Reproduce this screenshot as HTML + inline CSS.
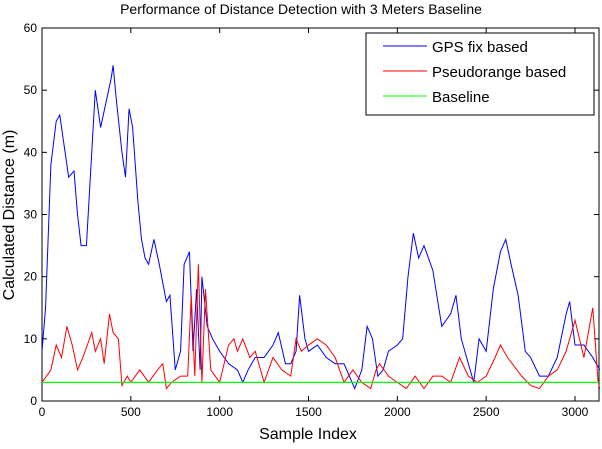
<!DOCTYPE html>
<html><head><meta charset="utf-8"><style>
body{margin:0;background:#fff;font-family:"Liberation Sans",Arial,sans-serif}
svg text{font-family:"Liberation Sans",Arial,sans-serif}
</style></head><body>
<svg id="chart" width="602" height="444" viewBox="0 0 602 444" xmlns="http://www.w3.org/2000/svg">
<text x="301" y="14" font-size="14" text-anchor="middle">Performance of Distance Detection with 3 Meters Baseline</text>
<g id="plot"></g>
<text x="308" y="439" font-size="16" text-anchor="middle">Sample Index</text>
<text transform="translate(14,215) rotate(-90)" font-size="16" text-anchor="middle">Calculated Distance (m)</text>
<g>
<rect x="366" y="33" width="228" height="82" fill="#fff" stroke="#000"/>
<line x1="383" y1="46" x2="427" y2="46" stroke="#00f"/>
<text x="432" y="52" font-size="15">GPS fix based</text>
<line x1="383" y1="71" x2="427" y2="71" stroke="#f00"/>
<text x="432" y="77" font-size="15">Pseudorange based</text>
<line x1="383" y1="96" x2="427" y2="96" stroke="#0f0"/>
<text x="432" y="102" font-size="15">Baseline</text>
</g>
</svg>
<script>
const gpsX=[0,20,50,80,100,130,150,180,200,220,250,270,300,330,360,390,400,420,450,470,490,510,540,560,580,600,630,660,700,720,750,780,800,830,850,870,890,900,930,960,1000,1050,1100,1130,1160,1200,1250,1300,1330,1370,1400,1430,1450,1480,1500,1550,1600,1650,1700,1730,1760,1800,1830,1860,1890,1920,1950,2000,2030,2060,2090,2120,2150,2200,2250,2300,2330,2360,2400,2430,2460,2500,2540,2580,2610,2640,2680,2720,2750,2800,2850,2900,2950,2970,3000,3050,3100,3140];
const gpsY=[8,15,38,45,46,40,36,37,30,25,25,35,50,44,48,52,54,48,40,36,47,44,32,26,23,22,26,22,16,17,5,8,22,24,8,18,5,20,12,10,8,6,5,3,5,7,7,9,11,6,6,8,17,10,8,9,7,6,6,4,2,5,12,10,4,5,8,9,10,20,27,23,25,21,12,14,17,10,6,3,10,8,18,24,26,22,17,8,7,4,4,7,14,16,9,9,7,5];
const prX=[0,50,80,110,140,170,200,230,280,300,330,350,380,400,430,450,480,500,550,600,650,680,700,730,780,820,840,860,880,900,920,950,1000,1050,1080,1100,1130,1170,1200,1250,1300,1350,1400,1430,1460,1500,1550,1600,1650,1700,1750,1800,1850,1880,1900,1950,2000,2050,2100,2150,2200,2250,2300,2350,2400,2450,2500,2550,2580,2620,2700,2750,2800,2850,2900,2950,3000,3050,3100,3130,3140];
const prY=[3,5,9,7,12,9,5,7,11,8,10,6,14,11,10,2.5,4,3,5,3,5,6,2,3,4,4,17,4,22,3,18,5,3,9,10,8,10,7,8,3,7,5,4,10,8,9,10,9,7,3,5,3,2,5,6,4,3,2,4,2,4,4,3,7,4,3,4,7,9,7,4,2.5,2,4,5,8,13,7,15,3,2];
const baseline=3;
const xTicks=[0,500,1000,1500,2000,2500,3000];
const yTicks=[0,10,20,30,40,50,60];
const L=42,R=599,T=28,B=401,XMAX=3135,YMAX=60;
const sx=v=>L+(v/XMAX)*(R-L), sy=v=>B-(v/YMAX)*(B-T);
const NS="http://www.w3.org/2000/svg", g=document.getElementById('plot');
function mk(t,a){const e=document.createElementNS(NS,t);for(const k in a)e.setAttribute(k,a[k]);g.appendChild(e);return e;}
const frame=mk('rect',{x:L,y:T,width:R-L,height:B-T,fill:'#fff',stroke:'#000'});


xTicks.forEach(v=>{const x=sx(v);
const t=mk('line',{x1:x,y1:B,x2:x,y2:B-5,stroke:'#000'});


mk('line',{x1:x,y1:T,x2:x,y2:T+5,stroke:'#000'});
const l=mk('text',{x:x,y:B+15,'font-size':12,'text-anchor':'middle'});l.textContent=v;

});
yTicks.forEach(v=>{const y=sy(v);
const t=mk('line',{x1:L,y1:y,x2:L+5,y2:y,stroke:'#000'});


mk('line',{x1:R,y1:y,x2:R-5,y2:y,stroke:'#000'});
const l=mk('text',{x:L-5,y:y+4,'font-size':12,'text-anchor':'end'});l.textContent=v;

});
function line(xs,ys,c,name){const p=mk('polyline',{points:xs.map((x,i)=>sx(x)+','+sy(ys[i])).join(' '),fill:'none',stroke:c,'stroke-width':1});

}
line(gpsX,gpsY,'#00f','gps-fix-series');
line(prX,prY,'#f00','pseudorange-series');
const bl=mk('line',{x1:L,y1:sy(baseline),x2:R,y2:sy(baseline),stroke:'#0f0','stroke-width':1.2});


</script>
</body></html>
